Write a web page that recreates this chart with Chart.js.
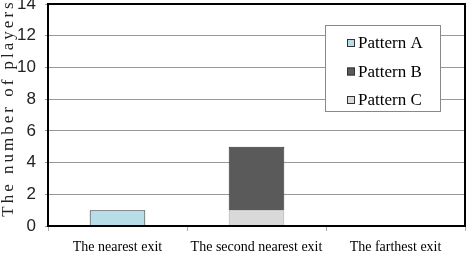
<!DOCTYPE html>
<html>
<head>
<meta charset="utf-8">
<script src="https://cdn.jsdelivr.net/npm/chart.js@4.4.0/dist/chart.umd.min.js"></script>
<style>
    html, body { margin: 0; padding: 0; background: #fff; }
    #wrap { width: 471px; height: 262px; }
</style>
</head>
<body>
<div id="wrap"><canvas id="exitChart" width="471" height="262"></canvas></div>
<script>
// Data
const categories = ['The nearest exit', 'The second nearest exit', 'The farthest exit'];
const patternA = [1, 0, 0];
const patternB = [0, 4, 0];
const patternC = [0, 1, 0];
const yTicks = [0, 2, 4, 6, 8, 10, 12, 14];
const legendOrder = ['Pattern A', 'Pattern B', 'Pattern C'];
const yTitle = 'The number of players';

// Black frame around the plot area
const frame = {
    id: 'frame',
    afterDatasetsDraw(chart) {
        const { ctx, chartArea: a } = chart;
        ctx.save();
        ctx.strokeStyle = '#000';
        ctx.lineWidth = 2;
        ctx.strokeRect(a.left, a.top, a.right - a.left, a.bottom - a.top);
        ctx.restore();
    }
};

// Spaced-out y title (Chart.js title has no letter spacing)
const spacedTitle = {
    id: 'spacedTitle',
    afterDraw(chart) {
        const { ctx } = chart;
        ctx.save();
        ctx.translate(9, 108);
        ctx.rotate(-Math.PI / 2);
        ctx.font = '17px "Liberation Serif"';
        ctx.letterSpacing = '3px';
        ctx.fillStyle = '#222';
        ctx.textAlign = 'center';
        ctx.textBaseline = 'middle';
        ctx.fillText(yTitle, 0, 0);
        ctx.restore();
    }
};

// Legend box inside the plot, top right
const boxLegend = {
    id: 'boxLegend',
    afterDraw(chart) {
        const { ctx } = chart;
        const x = 325, y = 25, w = 115, h = 86;
        ctx.save();
        ctx.fillStyle = '#fff';
        ctx.fillRect(x, y, w, h);
        ctx.strokeStyle = '#888';
        ctx.lineWidth = 1;
        ctx.strokeRect(x + 0.5, y + 0.5, w, h);
        ctx.font = '17px "Liberation Serif"';
        ctx.textBaseline = 'middle';
        legendOrder.forEach((name, i) => {
            const ds = chart.data.datasets.find(d => d.label === name);
            const cy = y + 18 + i * 28.5;
            ctx.fillStyle = ds.backgroundColor;
            ctx.fillRect(x + 22, cy - 4, 8, 8);
            ctx.strokeStyle = '#333';
            ctx.strokeRect(x + 22.5, cy - 3.5, 7, 7);
            ctx.fillStyle = '#000';
            ctx.fillText(name, x + 33, cy + 1);
        });
        ctx.restore();
    }
};

const ctx = document.getElementById('exitChart').getContext('2d');
new Chart(ctx, {
    type: 'bar',
    data: {
        labels: categories,
        datasets: [
            { label: 'Pattern A', data: patternA, backgroundColor: '#b7dde8', borderColor: '#333', borderWidth: 1 },
            { label: 'Pattern C', data: patternC, backgroundColor: '#d9d9d9', borderColor: '#aaa', borderWidth: 1 },
            { label: 'Pattern B', data: patternB, backgroundColor: '#5a5a5a', borderColor: '#333', borderWidth: 1 }
        ]
    },
    options: {
        responsive: false,
        animation: false,
        layout: { padding: { top: 4, right: 6, left: 0, bottom: 0 } },
        datasets: {
            bar: { categoryPercentage: 1, barPercentage: 0.4 }
        },
        plugins: {
            legend: { display: false },
            tooltip: { enabled: false }
        },
        scales: {
            x: {
                stacked: true,
                afterFit(scale) {
                    scale.height = 36;
                    scale.paddingLeft = 0;
                    scale.paddingRight = 0;
                },
                grid: {
                    offset: true,
                    drawOnChartArea: false,
                    drawTicks: true,
                    tickLength: 5,
                    color: '#aaa'
                },
                border: { display: false },
                ticks: {
                    color: '#000',
                    padding: 8,
                    maxRotation: 0,
                    autoSkip: false,
                    font: { family: '"Liberation Serif"', size: 14 }
                }
            },
            y: {
                stacked: true,
                min: 0,
                max: 14,
                afterFit(scale) {
                    scale.width = 48;
                    scale.paddingTop = 0;
                    scale.paddingBottom = 0;
                },
                afterBuildTicks(scale) { scale.ticks = yTicks.map(v => ({ value: v })); },
                grid: {
                    color: '#999',
                    lineWidth: 1,
                    drawTicks: true,
                    tickLength: 3
                },
                border: { display: false },
                ticks: {
                    color: '#222',
                    padding: 9,
                    font: { family: '"Liberation Sans"', size: 17 }
                }
            }
        }
    },
    plugins: [frame, spacedTitle, boxLegend]
});
</script>
</body>
</html>
